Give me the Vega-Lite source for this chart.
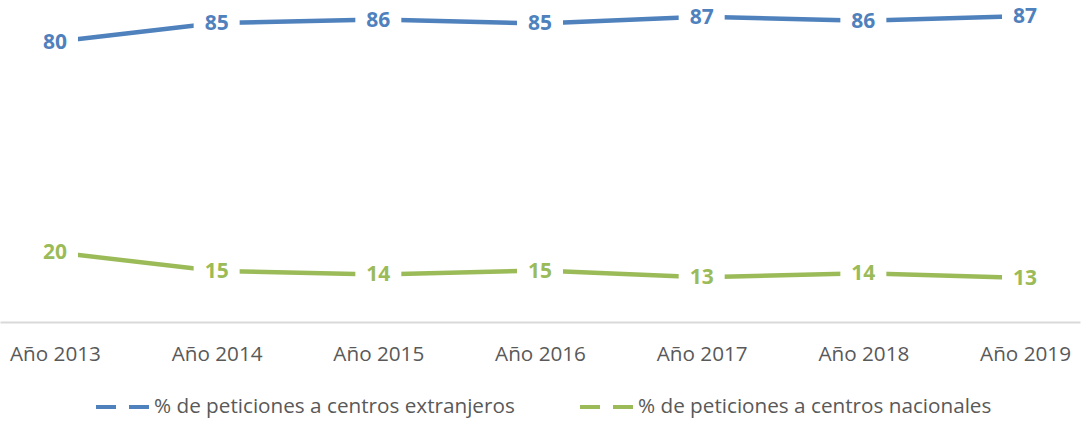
{
  "$schema": "https://vega.github.io/schema/vega-lite/v6.json",
  "width": 1080,
  "height": 322,
  "autosize": {"type": "none"},
  "padding": {"left": 0, "top": 0, "right": 2, "bottom": 101},
  "background": "white",
  "config": {
    "view": {"stroke": null},
    "font": "Open Sans"
  },
  "data": {
    "values": [
      {"year": "Año 2013", "series": "% de peticiones a centros extranjeros", "value": 80.1},
      {"year": "Año 2014", "series": "% de peticiones a centros extranjeros", "value": 85.4},
      {"year": "Año 2015", "series": "% de peticiones a centros extranjeros", "value": 86.4},
      {"year": "Año 2016", "series": "% de peticiones a centros extranjeros", "value": 85.3},
      {"year": "Año 2017", "series": "% de peticiones a centros extranjeros", "value": 87.2},
      {"year": "Año 2018", "series": "% de peticiones a centros extranjeros", "value": 86.1},
      {"year": "Año 2019", "series": "% de peticiones a centros extranjeros", "value": 87.4},
      {"year": "Año 2013", "series": "% de peticiones a centros nacionales", "value": 19.9},
      {"year": "Año 2014", "series": "% de peticiones a centros nacionales", "value": 14.6},
      {"year": "Año 2015", "series": "% de peticiones a centros nacionales", "value": 13.6},
      {"year": "Año 2016", "series": "% de peticiones a centros nacionales", "value": 14.7},
      {"year": "Año 2017", "series": "% de peticiones a centros nacionales", "value": 12.8},
      {"year": "Año 2018", "series": "% de peticiones a centros nacionales", "value": 13.9},
      {"year": "Año 2019", "series": "% de peticiones a centros nacionales", "value": 12.6}
    ]
  },
  "encoding": {
    "x": {
      "field": "year",
      "type": "ordinal",
      "scale": {"type": "point", "padding": 0.34},
      "axis": {
        "title": null,
        "labelAngle": 0,
        "labelFont": "Open Sans",
        "labelFontSize": 20.7,
        "labelColor": "#595959",
        "labelBaseline": "top",
        "labelPadding": 22.5,
        "ticks": false,
        "tickSize": 0,
        "grid": false,
        "domainColor": "#d9d9d9",
        "domainWidth": 2
      }
    },
    "y": {
      "field": "value",
      "type": "quantitative",
      "scale": {"domain": [0, 92], "nice": false, "zero": false},
      "axis": null
    }
  },
  "layer": [
    {
      "mark": {"type": "line", "strokeWidth": 4.5},
      "encoding": {
        "color": {
          "field": "series",
          "type": "nominal",
          "scale": {
            "domain": ["% de peticiones a centros extranjeros", "% de peticiones a centros nacionales"],
            "range": ["#4F81BD", "#9BBB59"]
          },
          "legend": {
            "title": null,
            "orient": "none",
            "direction": "horizontal",
            "legendX": 94,
            "legendY": 378,
            "padding": 0,
            "symbolType": "stroke",
            "symbolSize": 2809,
            "symbolStrokeWidth": 4,
            "symbolDash": [20, 13],
            "labelFont": "Open Sans",
            "labelFontSize": 20.7,
            "labelColor": "#595959",
            "labelOffset": 3,
            "columnPadding": 57,
            "labelLimit": 600
          }
        }
      }
    },
    {
      "mark": {
        "type": "point",
        "shape": "M-1,-0.45H1V0.45H-1Z",
        "size": 2116,
        "filled": true,
        "color": "white",
        "opacity": 1,
        "strokeWidth": 0
      }
    },
    {
      "mark": {
        "type": "text",
        "font": "Open Sans",
        "fontWeight": "bold",
        "fontSize": 21,
        "align": "center",
        "baseline": "middle",
        "dy": 1
      },
      "encoding": {
        "text": {"field": "value", "type": "quantitative", "format": ".0f"},
        "color": {"field": "series", "type": "nominal"}
      }
    }
  ]
}
